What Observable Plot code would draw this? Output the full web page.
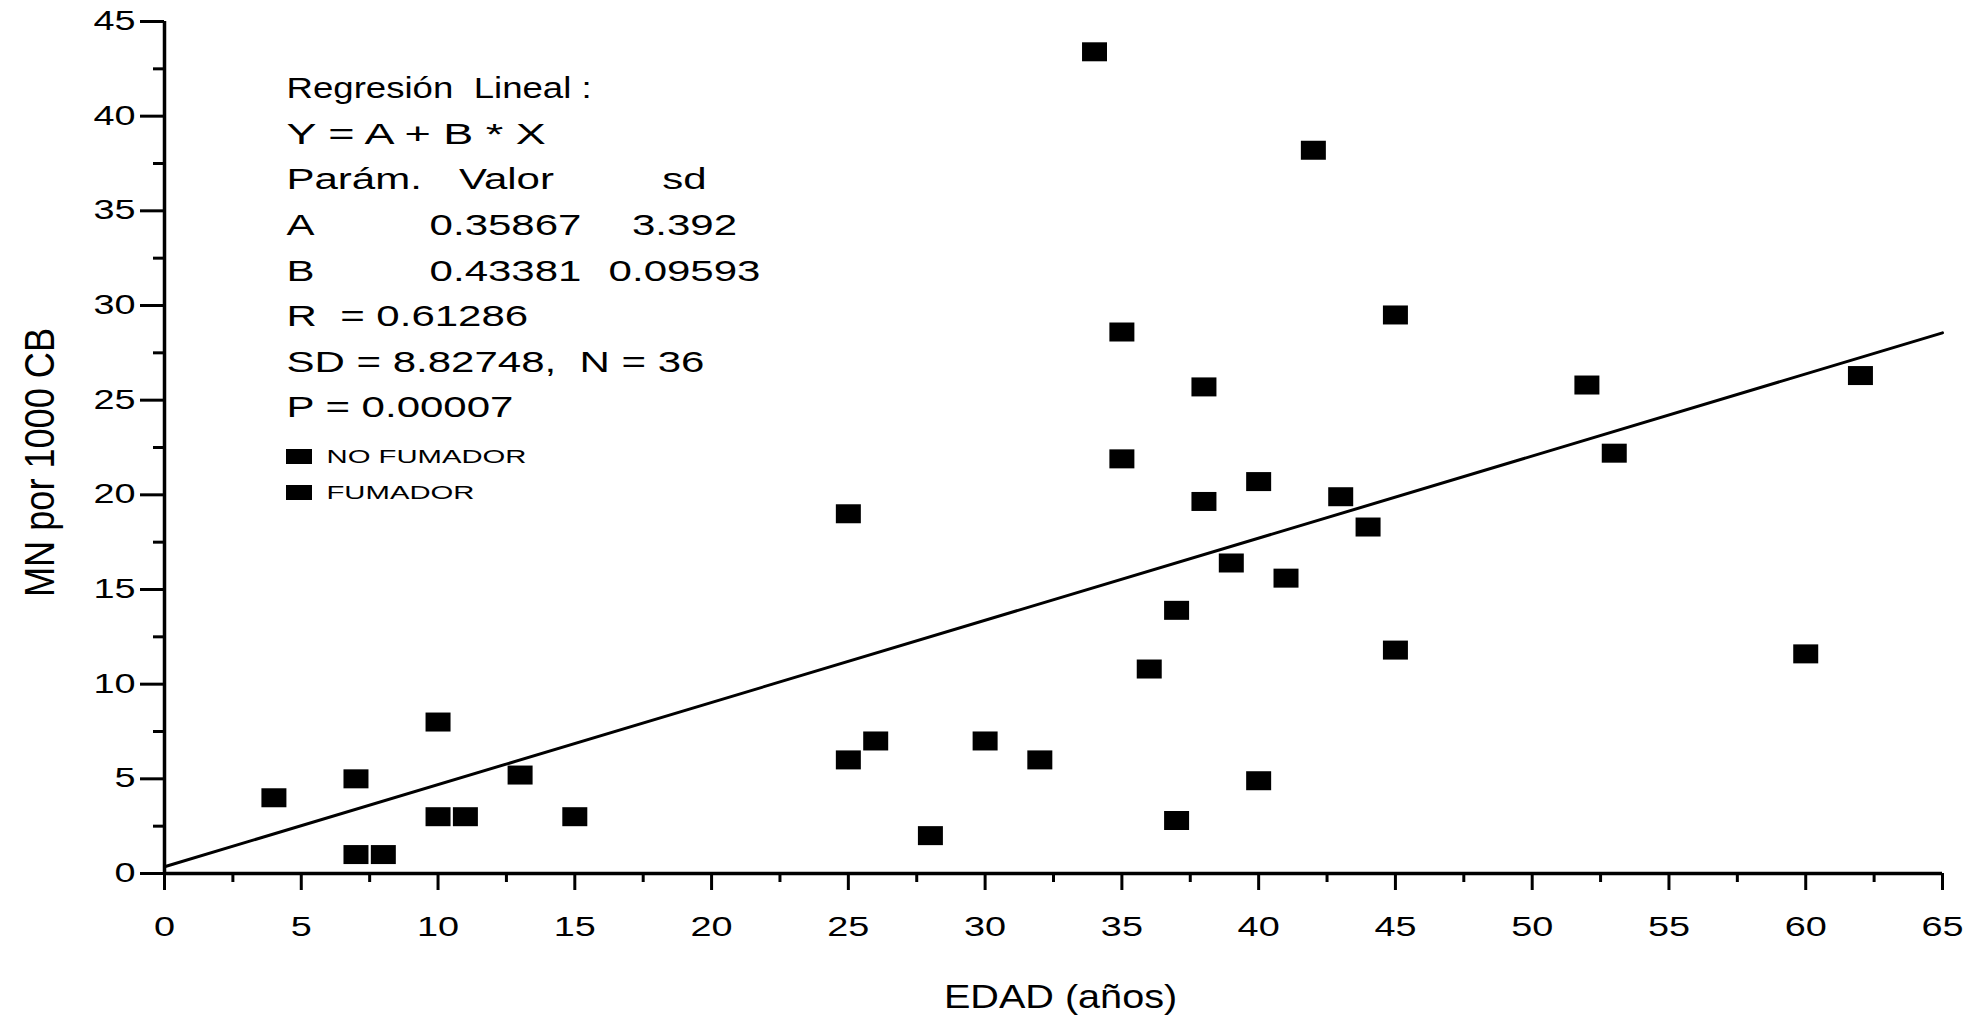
<!DOCTYPE html>
<html><head><meta charset="utf-8">
<script src="https://cdn.jsdelivr.net/npm/d3@7"></script>
<script src="https://cdn.jsdelivr.net/npm/@observablehq/plot@0.6"></script>
<style>
html,body{margin:0;padding:0;background:#fff;}
#chart svg text{white-space:pre;}
</style></head><body><div id="chart"></div>
<script>
// ---- data ----
const edad = [4,7,7,8,10,10,11,13,15,25,25,26,28,30,32,34,35,35,36,37,37,38,38,39,40,40,41,42,43,44,45,45,52,53,60,62];
const mn   = [4,5,1,1,8,3,3,5.2,3,19,6,7,2,7,6,43.4,28.6,21.9,10.8,13.9,2.8,25.7,19.65,16.4,20.7,4.9,15.6,38.2,19.9,18.3,29.5,11.8,25.8,22.2,11.6,26.3];
const regA = 0.35867, regB = 0.43381;
const xDomain = [0, 65];
const yDomain = [0, 45];
const xTicks = [0,5,10,15,20,25,30,35,40,45,50,55,60,65];
const xMinor = [2.5,7.5,12.5,17.5,22.5,27.5,32.5,37.5,42.5,47.5,52.5,57.5,62.5];
const yTicks = [0,5,10,15,20,25,30,35,40,45];
const yMinor = [2.5,7.5,12.5,17.5,22.5,27.5,32.5,37.5,42.5];
const xTitle = "EDAD (años)";
const yTitle = "MN por 1000 CB";
const annotTitle = "Regresión  Lineal :";
const annotEq = "Y = A + B * X";
const headerCols = ["Parám.", "Valor", "sd"];
const paramNames = ["A", "B"];
const paramValues = ["0.35867", "0.43381"];
const paramSD = ["3.392", "0.09593"];
const statLines = ["R  = 0.61286", "SD = 8.82748,  N = 36", "P = 0.00007"];
const legendLabels = ["NO FUMADOR", "FUMADOR"];

// ---- build ----
const points = edad.map((e, i) => ({edad: e, mn: mn[i]}));
const regLine = xDomain.map(x => ({x, y: regA + regB * x}));
const sq = {draw(ctx){ ctx.rect(-12.5, -9.5, 25, 19); }};
const sqLeg = {draw(ctx){ ctx.rect(-13, -7.5, 26, 15); }};

const fx0 = 164, fy0 = 21;
const lineY = i => 88 + i * 45.6 - fy0;
const tl = (txt, x, row, opts = {}) => Plot.text([txt], {frameAnchor: "top-left", text: d => d, dx: x - fx0, dy: lineY(row), lineAnchor: "middle", textAnchor: "start", fontSize: 30, fill: "#000", ...opts});

const annot = [
  tl(annotTitle, 286, 0),
  tl(annotEq, 286, 1),
  tl(headerCols[0], 286, 2),
  tl(headerCols[1], 506, 2, {textAnchor: "middle"}),
  tl(headerCols[2], 684, 2, {textAnchor: "middle"}),
  ...paramNames.flatMap((p, i) => [
    tl(p, 286, 3 + i),
    tl(paramValues[i], 505, 3 + i, {textAnchor: "middle"}),
    tl(paramSD[i], 684, 3 + i, {textAnchor: "middle"})
  ]),
  ...statLines.map((s, i) => tl(s, 286, 5 + i)),
  ...legendLabels.map((s, i) => Plot.dot([s], {frameAnchor: "top-left", dx: 298.5 - fx0, dy: 456 + i * 36 - fy0, symbol: sqLeg, fill: "#000", stroke: "none"})),
  ...legendLabels.map((s, i) => Plot.text([s], {frameAnchor: "top-left", text: d => d, dx: 326 - fx0, dy: 456 + i * 36 - fy0, lineAnchor: "middle", textAnchor: "start", fontSize: 19, fill: "#000"}))
];

const plot = Plot.plot({
  width: 1983, height: 1030,
  marginLeft: 164, marginRight: 41, marginTop: 21, marginBottom: 157,
  x: {domain: xDomain},
  y: {domain: yDomain},
  style: {fontFamily: "'Liberation Sans', Arial, sans-serif", color: "#000", background: "#fff"},
  marks: [
    Plot.axisY({ticks: yTicks, tickSize: 24, tickPadding: 5, fontSize: 27, strokeWidth: 3, label: null}),
    Plot.axisY({ticks: yMinor, tickSize: 11, text: null, strokeWidth: 3, label: null}),
    Plot.axisX({ticks: xTicks, tickSize: 17, tickPadding: 26, fontSize: 27, strokeWidth: 3, label: null}),
    Plot.axisX({ticks: xMinor, tickSize: 9, text: null, strokeWidth: 3, label: null}),
    Plot.ruleX([0], {strokeWidth: 3.5, stroke: "#000"}),
    Plot.ruleY([0], {strokeWidth: 3.5, stroke: "#000"}),
    Plot.line(regLine, {x: "x", y: "y", stroke: "#000", strokeWidth: 3}),
    Plot.dot(points, {x: "edad", y: "mn", symbol: sq, fill: "#000", stroke: "none"}),
    Plot.text([yTitle], {frameAnchor: "left", text: d => d, dx: 40 - fx0, dy: 15, rotate: -90, fontSize: 42, textAnchor: "middle", lineAnchor: "middle", fill: "#000"}),
    Plot.text([xTitle], {frameAnchor: "bottom", text: d => d, dx: 7, dy: 124, fontSize: 33, textAnchor: "middle", lineAnchor: "middle", fill: "#000"}),
    ...annot
  ]
});
document.getElementById("chart").appendChild(plot);

// horizontal stretch of glyphs, as in the scanned original
d3.select(plot).selectAll("text").each(function() {
  const s = this.textContent;
  const f = s === yTitle ? 0.86
    : s === xTitle ? 1.2
    : s === annotTitle ? 1.22
    : s === annotEq ? 1.5
    : legendLabels.includes(s) ? 1.54
    : 1.4;
  const L = this.getComputedTextLength();
  if (L > 0) { this.setAttribute("textLength", L * f); this.setAttribute("lengthAdjust", "spacingAndGlyphs"); }
});
</script></body></html>
